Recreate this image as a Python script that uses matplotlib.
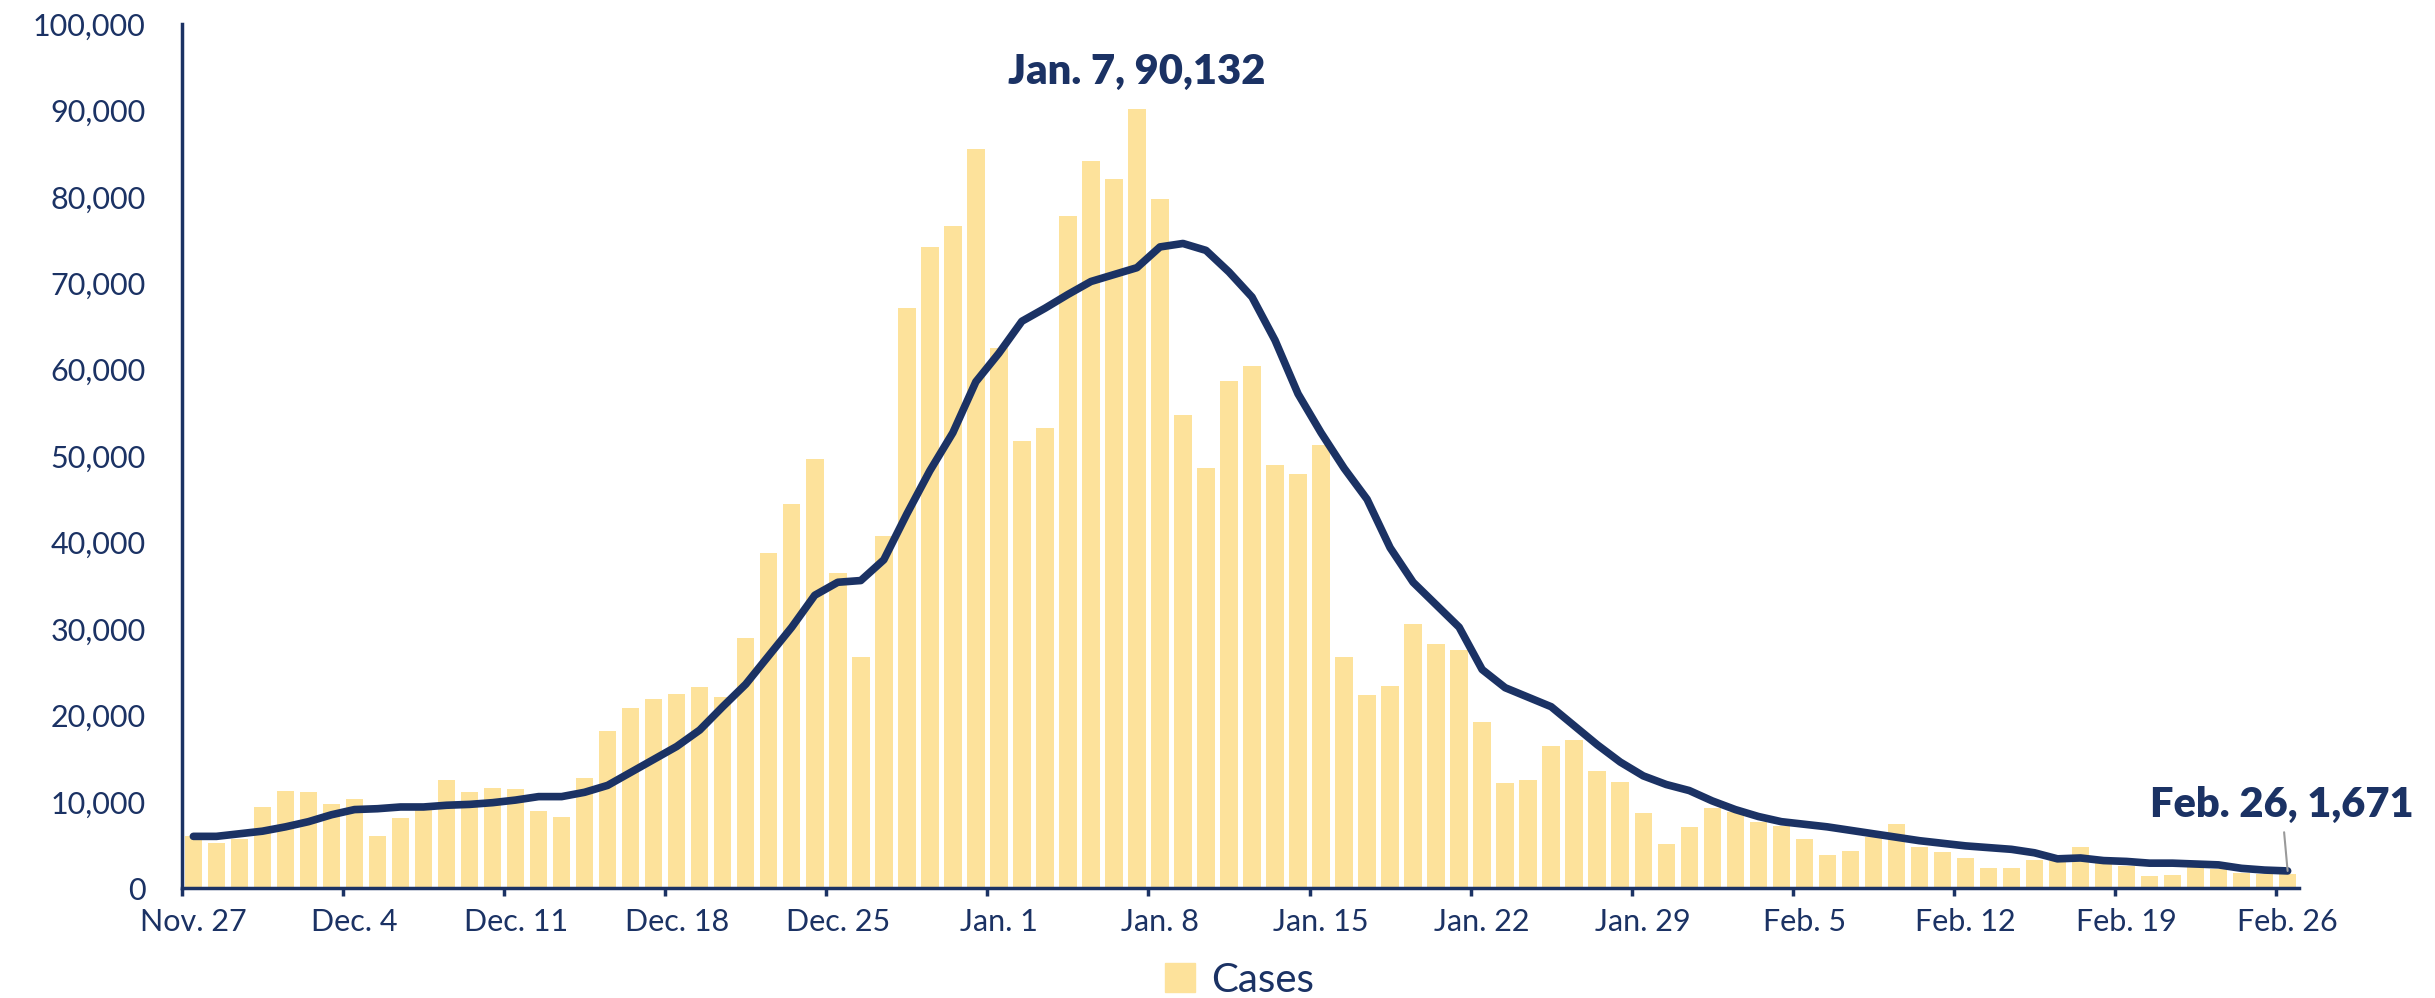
import numpy as np
import matplotlib.pyplot as plt
import matplotlib as mpl
from matplotlib.patches import Patch

plt.rcParams['font.family'] = ['Lato', 'DejaVu Sans']

navy = "#1b3264"
bar_color = "#fde29b"

# daily cases, Nov. 27 .. Feb. 26
cases_nov = [6000, 5200, 5700, 9400]
cases_dec = [11200, 11100, 9800, 10300, 6000, 8100, 9200, 12500, 11100, 11600,
             11500, 8900, 8200, 12800, 18200, 20900, 21900, 22500, 23300, 22100,
             28900, 38800, 44400, 49700, 36500, 26800, 40800, 67100, 74200, 76600,
             85500]
cases_jan = [62500, 51700, 53300, 77800, 84200, 82100, 90132, 79700, 54800, 48600,
             58700, 60400, 49000, 47900, 51300, 26800, 22300, 23400, 30600, 28200,
             27600, 19200, 12200, 12500, 16500, 17200, 13600, 12300, 8700, 5100,
             7100]
cases_feb = [9300, 8800, 7700, 7200, 5700, 3800, 4300, 5900, 7400, 4800,
             4200, 3500, 2300, 2300, 3300, 3200, 4800, 2900, 2600, 1400,
             1500, 2400, 2200, 1800, 1700, 1671]
cases = cases_nov + cases_dec + cases_jan + cases_feb

# 7-day average (thousands)
avg_k = [6.0, 6.0, 6.3, 6.6, 7.1, 7.7, 8.5, 9.1, 9.2, 9.4, 9.4, 9.6, 9.7, 9.9,
         10.2, 10.6, 10.6, 11.1, 11.9, 13.4, 14.9, 16.4, 18.3,
         21.0, 23.6, 26.9, 30.2, 33.9, 35.4, 35.6, 38.0, 43.3, 48.3, 52.7, 58.6,
         61.9, 65.6, 67.1, 68.7, 70.2, 71.0, 71.8, 74.2, 74.6,
         73.8, 71.3, 68.4, 63.4, 57.2, 52.7, 48.6, 45.0, 39.4, 35.4, 32.8, 30.2,
         25.3, 23.2, 22.1, 21.0, 18.8, 16.6, 14.6, 13.0, 12.0, 11.3, 10.1, 9.1,
         8.3, 7.7, 7.4, 7.1,
         6.7, 6.3, 5.9, 5.5, 5.2, 4.9, 4.7, 4.5, 4.1, 3.4, 3.5, 3.2, 3.1, 2.9,
         2.9, 2.8, 2.7, 2.3, 2.1, 2.0]
avg = [v * 1000 for v in avg_k]

date_labels = ["Nov. 27", "Dec. 4", "Dec. 11", "Dec. 18", "Dec. 25", "Jan. 1",
               "Jan. 8", "Jan. 15", "Jan. 22", "Jan. 29", "Feb. 5", "Feb. 12",
               "Feb. 19", "Feb. 26"]

x = np.arange(len(cases)) + 0.5

fig = plt.figure(figsize=(24.35, 9.98), dpi=100)
ax = fig.add_axes([0.0747, 0.110, 0.8695, 0.866])

ax.bar(x, cases, width=0.76, color=bar_color, zorder=1)
ax.plot(x, avg, color=navy, lw=5.5, zorder=3, solid_capstyle="round",
        solid_joinstyle="round")

ax.set_xlim(0, len(cases))
ax.set_ylim(0, 100000)

for s in ["top", "right"]:
    ax.spines[s].set_visible(False)
for s in ["left", "bottom"]:
    ax.spines[s].set_color(navy)
    ax.spines[s].set_linewidth(2.5)

ax.set_yticks(np.arange(0, 100001, 10000))
ax.yaxis.set_major_formatter(mpl.ticker.FuncFormatter(lambda v, p: f"{int(v):,}"))
ax.tick_params(axis="y", length=0, pad=26, labelsize=22, labelcolor=navy)

tick_pos = np.arange(0, len(cases), 7)
ax.set_xticks(tick_pos)
ax.set_xticklabels([])
ax.set_xticks(tick_pos + 0.5, minor=True)
ax.set_xticklabels(date_labels, minor=True)
ax.tick_params(axis="x", which="major", length=6, width=2.5, color=navy)
ax.tick_params(axis="x", which="minor", length=0, pad=14, labelsize=22,
               labelcolor=navy)

# annotations
ax.annotate("Jan. 7, 90,132", xy=(41.5, 90132), xytext=(0, 18),
            textcoords="offset pixels", ha="center", va="bottom",
            fontsize=30, fontweight="heavy", color=navy)
ax.annotate("Feb. 26, 1,671", xy=(x[-1], avg[-1]), xytext=(-6, 66),
            textcoords="offset pixels", ha="center", va="center",
            fontsize=30, fontweight="heavy", color=navy, annotation_clip=False,
            arrowprops=dict(arrowstyle="-", color="#9a9a9a", lw=1.5,
                            shrinkA=4, shrinkB=0))

fig.legend(handles=[Patch(color=bar_color, label="Cases")], loc="center",
           bbox_to_anchor=(0.509, 0.018), frameon=False, fontsize=29,
           labelcolor=navy, handlelength=0.75, handleheight=0.75,
           handletextpad=0.4)

plt.savefig("out.png", dpi=100)
